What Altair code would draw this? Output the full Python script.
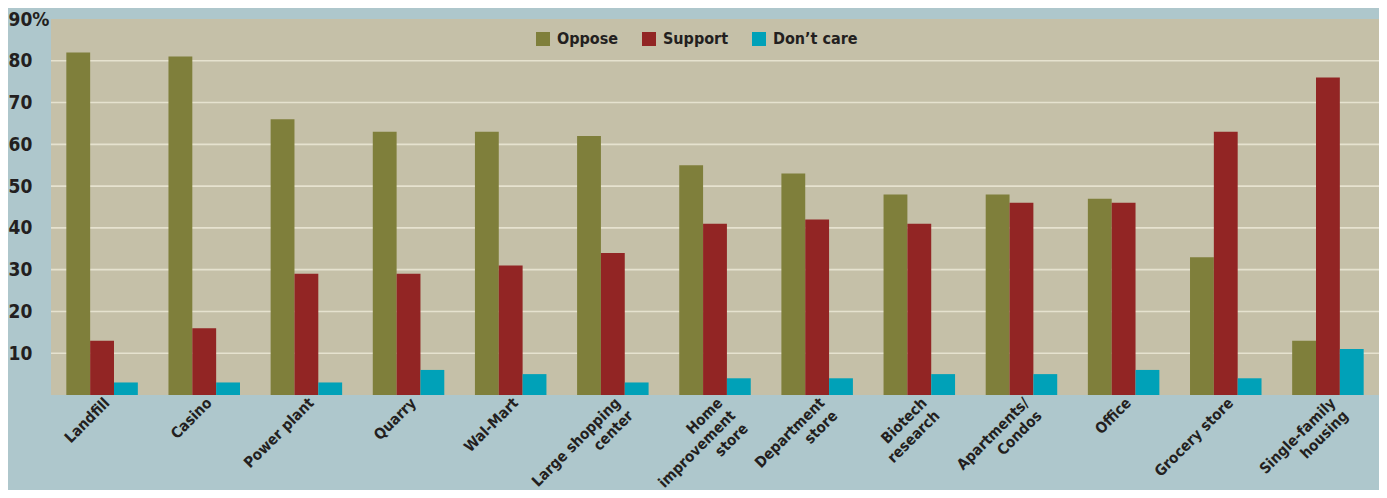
import altair as alt
import pandas as pd

categories = ["Landfill", "Casino", "Power plant", "Quarry", "Wal-Mart",
              "Large shopping|center", "Home|improvement|store", "Department|store",
              "Biotech|research", "Apartments/|Condos", "Office", "Grocery store",
              "Single-family|housing"]
series = ["Oppose", "Support", "Don\u2019t care"]
oppose = [82, 81, 66, 63, 63, 62, 55, 53, 48, 48, 47, 33, 13]
support = [13, 16, 29, 29, 31, 34, 41, 42, 41, 46, 46, 63, 76]
dontcare = [3, 3, 3, 6, 5, 3, 4, 4, 5, 5, 6, 4, 11]
grid_values = [10, 20, 30, 40, 50, 60, 70, 80]
y_ticks = [10, 20, 30, 40, 50, 60, 70, 80, 90]
colors = ["#7f7f3b", "#922524", "#00a1b8"]

rows = []
for i, c in enumerate(categories):
    for s, vals in zip(series, [oppose, support, dontcare]):
        rows.append({"cat": c, "series": s, "value": vals[i]})
df = pd.DataFrame(rows)
grid_df = pd.DataFrame({"v": grid_values})

FONT = "DejaVu Sans Condensed, DejaVu Sans, sans-serif"

y_scale = alt.Scale(domain=[0, 90], nice=False)
y_axis = alt.Axis(title=None, values=y_ticks,
                  labelExpr="datum.value == 90 ? '90%' : datum.label",
                  labelAlign="left", labelPadding=43, tickSize=0,
                  ticks=False, domain=False, grid=False,
                  labelFont=FONT, labelFontSize=19, labelFontWeight="bold",
                  labelColor="#231f20")

grid = alt.Chart(grid_df).mark_rule(color="#e6e2cf", strokeWidth=1.6).encode(
    y=alt.Y("v:Q", scale=y_scale, axis=y_axis)
)

bars = alt.Chart(df).mark_bar().encode(
    x=alt.X("cat:N", sort=categories,
            scale=alt.Scale(paddingInner=0.3, paddingOuter=0.15),
            axis=alt.Axis(title=None, labelAngle=-45, labelAlign="right",
                          labelBaseline="top", labelPadding=0, labelOffset=0,
                          labelExpr="split(datum.label, '|')",
                          labelFont=FONT, labelFontSize=15, labelFontWeight="bold",
                          labelColor="#231f20", labelLineHeight=18,
                          ticks=False, domain=False, grid=False, labelLimit=400)),
    xOffset=alt.XOffset("series:N", sort=series),
    y=alt.Y("value:Q", scale=y_scale, axis=y_axis),
    color=alt.Color("series:N", sort=series,
                    scale=alt.Scale(domain=series, range=colors),
                    legend=alt.Legend(title=None, orient="none", legendX=484, legendY=12,
                                      direction="horizontal", symbolType="square",
                                      symbolSize=196, symbolStrokeWidth=0,
                                      labelFont=FONT, labelFontSize=16,
                                      labelFontWeight="bold", labelColor="#231f20",
                                      labelOffset=6, columnPadding=22)),
)

chart = alt.layer(grid, bars).properties(
    width=1328, height=376,
    background="#aec7cc",
    padding={"left": 43, "top": 11, "right": 0, "bottom": 95},
    autosize=alt.AutoSizeParams(type="none"),
).configure_view(fill="#c5c0a8", stroke=None)

chart.save("out.html", embed_options={"renderer": "svg", "actions": False})
